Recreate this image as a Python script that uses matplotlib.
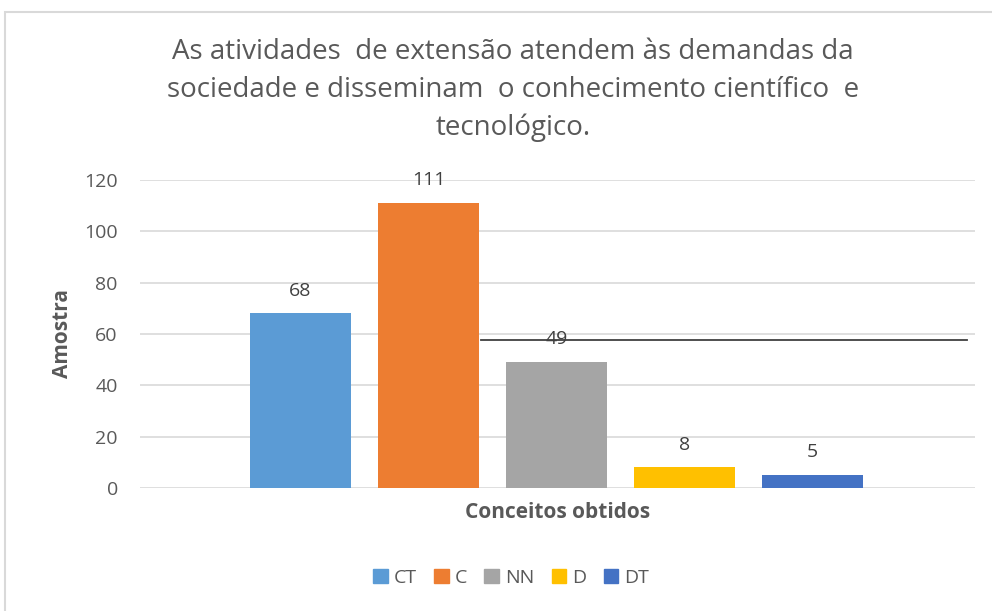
import matplotlib.pyplot as plt
import matplotlib.patches as mpatches
from matplotlib.lines import Line2D

# data
categories = ["CT", "C", "NN", "D", "DT"]
values = [68, 111, 49, 8, 5]
colors = ["#5B9BD5", "#ED7D31", "#A5A5A5", "#FFC000", "#4472C4"]
yticks = [0, 20, 40, 60, 80, 100, 120]

title = ("As atividades  de extensão atendem às demandas da\n"
         "sociedade e disseminam  o conhecimento científico  e\n"
         "tecnológico.")

plt.rcParams['font.family'] = ['Open Sans', 'DejaVu Sans']
txt = "#595959"

fig = plt.figure(figsize=(9.92, 6.11), dpi=100)
ax = fig.add_axes([140 / 992, 123 / 611, 835 / 992, 308 / 611])

xs = list(range(len(categories)))
bars = ax.bar(xs, values, width=101 / 128, color=colors, zorder=3)
for x, v in zip(xs, values):
    ax.annotate(str(v), (x, v), xytext=(0, 10), textcoords="offset points",
                ha="center", va="bottom", fontsize=14, color="#404040")

ax.set_xlim(-1.254, 5.27)
ax.set_ylim(0, 120)
ax.set_yticks(yticks)
ax.set_xticks([])
ax.tick_params(axis="y", length=0, labelsize=14, labelcolor=txt, pad=16)
ax.grid(axis="y", color="#D9D9D9", linewidth=1.2, zorder=0)
for s in ax.spines.values():
    s.set_visible(False)

ax.set_ylabel("Amostra", fontsize=15, fontweight="bold", color=txt, labelpad=8)
ax.set_xlabel("Conceitos obtidos", fontsize=15, fontweight="bold", color=txt, labelpad=10)

fig.text(513 / 992, 1 - 90 / 611, title, ha="center", va="center", fontsize=20,
         color=txt, linespacing=1.45)

# legend
handles = [mpatches.Patch(color=c, label=l) for c, l in zip(colors, categories)]
fig.legend(handles=handles, loc="center", bbox_to_anchor=(511 / 992, 1 - 578 / 611),
           ncol=5, frameon=False, fontsize=14, handlelength=0.75, handleheight=0.75,
           handletextpad=0.3, columnspacing=0.9, labelcolor=txt)

# chart border and stray line
fig.add_artist(mpatches.Rectangle((5 / 992, -0.1), 1.1, 1 - 12 / 611 + 0.1,
                                  transform=fig.transFigure, fill=False,
                                  edgecolor="#D9D9D9", linewidth=1.5))
fig.add_artist(Line2D([481 / 992, 967 / 992], [1 - 340 / 611, 1 - 340 / 611],
                      transform=fig.transFigure, color="#404040", linewidth=1.3))

fig.savefig("out.png", dpi=100)
